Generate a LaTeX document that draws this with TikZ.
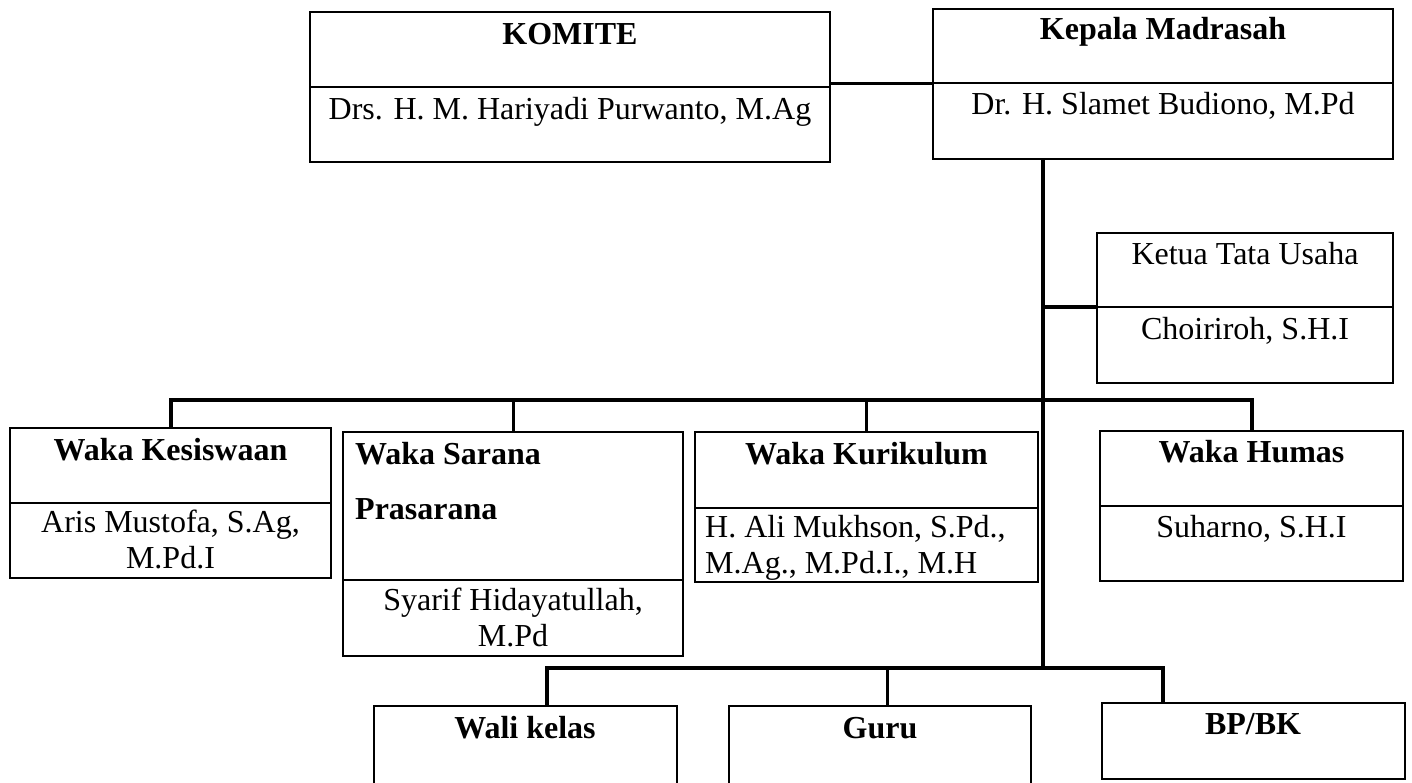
\documentclass[tikz,border=0pt]{standalone}
\usepackage{fontspec}
\setmainfont{Liberation Serif}
\begin{document}
\begin{tikzpicture}[x=1pt,y=-1pt,
  cell/.style={draw, line width=2.5pt, inner sep=0pt, outer sep=0pt, anchor=north west},
  conn/.style={draw, line width=4pt},
  lbl/.style={inner sep=0pt, anchor=base, font=\fontsize{32}{37}\selectfont},
  lblw/.style={lbl, anchor=base west},
  hd/.style={lbl, font=\fontsize{32}{37}\selectfont\bfseries},
  hdw/.style={hd, anchor=base west}]
\path[use as bounding box, clip] (0,0) rectangle (1412,782);
\fill[white] (0,0) rectangle (1412,782);

% top row
\node[cell, minimum width=520pt, minimum height=75pt] (komT) at (310,12) {};
\node[cell, minimum width=520pt, minimum height=75pt] (komB) at (310,87) {};
\node[cell, minimum width=460pt, minimum height=74pt] (kepT) at (933,9) {};
\node[cell, minimum width=460pt, minimum height=76pt] (kepB) at (933,83) {};
\node[cell, minimum width=296pt, minimum height=74pt] (ketT) at (1097,233) {};
\node[cell, minimum width=296pt, minimum height=76pt] (ketB) at (1097,307) {};

% waka row
\node[cell, minimum width=321pt, minimum height=75pt] (kesT) at (10,428) {};
\node[cell, minimum width=321pt, minimum height=75pt] (kesB) at (10,503) {};
\node[cell, minimum width=340pt, minimum height=148pt] (sarT) at (343,432) {};
\node[cell, minimum width=340pt, minimum height=76pt] (sarB) at (343,580) {};
\node[cell, minimum width=343pt, minimum height=76pt] (kurT) at (695,432) {};
\node[cell, minimum width=343pt, minimum height=74pt] (kurB) at (695,508) {};
\node[cell, minimum width=303pt, minimum height=75pt] (humT) at (1100,431) {};
\node[cell, minimum width=303pt, minimum height=75pt] (humB) at (1100,506) {};

% bottom row
\node[cell, minimum width=303pt, minimum height=100pt] (wali) at (374,706) {};
\node[cell, minimum width=302pt, minimum height=100pt] (guru) at (729,706) {};
\node[cell, minimum width=303pt, minimum height=76pt] (bpbk) at (1102,703) {};

% texts
\node[hd] (tKom) at (570,44) {KOMITE};
\node[lbl] (tKomN) at (570,119) {Drs. H. M. Hariyadi Purwanto, M.Ag};
\node[hd] (tKep) at (1163,39) {Kepala Madrasah};
\node[lbl] (tKepN) at (1163,114) {Dr. H. Slamet Budiono, M.Pd};
\node[lbl] (tKet) at (1245,264) {Ketua Tata Usaha};
\node[lbl] (tKetN) at (1245,339) {Choiriroh, S.H.I};
\node[hd] (tKes) at (170.5,460) {Waka Kesiswaan};
\node[lbl] (tKesN1) at (170.5,532) {Aris Mustofa, S.Ag,};
\node[lbl] (tKesN2) at (170.5,568) {M.Pd.I};
\node[hdw] (tSar1) at (355,464) {Waka Sarana};
\node[hdw] (tSar2) at (355,519) {Prasarana};
\node[lbl] (tSarN1) at (513,610) {Syarif Hidayatullah,};
\node[lbl] (tSarN2) at (513,646) {M.Pd};
\node[hd] (tKur) at (866.5,464) {Waka Kurikulum};
\node[lblw] (tKurN1) at (705,537) {H. Ali Mukhson, S.Pd.,};
\node[lblw] (tKurN2) at (705,573) {M.Ag., M.Pd.I., M.H};
\node[hd] (tHum) at (1251.5,462) {Waka Humas};
\node[lbl] (tHumN) at (1251.5,537) {Suharno, S.H.I};
\node[hd] (tWali) at (525,738) {Wali kelas};
\node[hd] (tGuru) at (880,738) {Guru};
\node[hd] (tBp) at (1253,734) {BP/BK};

% junction coordinates
\coordinate (trunkTop) at (1043,159);
\coordinate (trunkBot) at (1043,668);
\coordinate (barY) at (0,400);
\coordinate (b1) at (547,668);
\coordinate (b2) at (887,668);
\coordinate (b3) at (1163,668);

% connectors
\draw[line width=3pt] (kepT.south west -| komB.east) -- (kepT.south west);
\draw[conn] (trunkTop) -- (trunkBot);
\draw[line width=3.5pt] (ketB.north west -| trunkTop) -- (ketB.north west);
\draw[conn] (kesT.north) -- (kesT.north |- barY) -- (humT.north |- barY) -- (humT.north);
\draw[line width=3pt] (sarT.north |- barY) -- (sarT.north);
\draw[line width=3pt] (kurT.north |- barY) -- (kurT.north);
\draw[conn] (b1 |- wali.north) -- (b1) -- (b3) -- (b3 |- bpbk.north);
\draw[line width=3pt] (b2) -- (b2 |- guru.north);
\end{tikzpicture}
\end{document}
